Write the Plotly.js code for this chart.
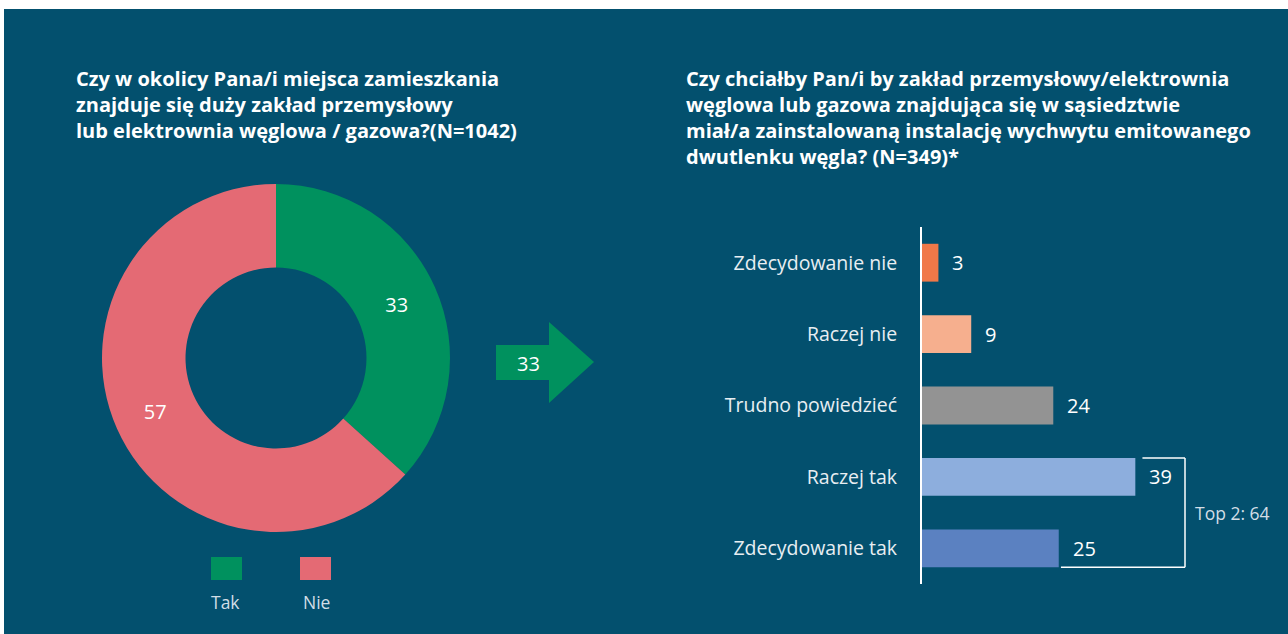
<!DOCTYPE html>
<html>
<head>
<meta charset="utf-8">
<script src="https://cdn.plot.ly/plotly-3.0.1.min.js"></script>
<style>
  html, body { margin: 0; padding: 0; background: #ffffff; }
  #chart { width: 1288px; height: 634px; }
</style>
</head>
<body>
<div id="chart"></div>
<script>
// ---------- data ----------
const donutLabels = ["Tak", "Nie"];
const donutValues = [33, 57];
const donutColors = ["#00915E", "#E46A74"];

const barCategories = ["Zdecydowanie nie", "Raczej nie", "Trudno powiedzieć", "Raczej tak", "Zdecydowanie tak"];
const barValues = [3, 9, 24, 39, 25];
const barColors = ["#F07848", "#F6AF8E", "#939393", "#8DAEDD", "#5B81C1"];

const leftTitle = "Czy w okolicy Pana/i miejsca zamieszkania<br>znajduje się duży zakład przemysłowy<br>lub elektrownia węglowa / gazowa?(N=1042)";
const rightTitle = "Czy chciałby Pan/i by zakład przemysłowy/elektrownia<br>węglowa lub gazowa znajdująca się w sąsiedztwie<br>miał/a zainstalowaną instalację wychwytu emitowanego<br>dwutlenku węgla? (N=349)*";
const top2Label = "Top 2: ";

// ---------- helpers ----------
const W = 1288, H = 634;
const X = px => px / W;
const Y = py => 1 - py / H;
const BG = "#03506E";
const FONT = "'Open Sans', 'Noto Sans', sans-serif";

const xRangeMax = (W - 922) / 5.47;
const bracketX = (1185 - 922) / 5.47;

const traces = [
  {
    type: "pie",
    labels: donutLabels,
    values: donutValues,
    sort: false,
    direction: "clockwise",
    rotation: 0,
    hole: 0.52,
    marker: { colors: donutColors, line: { width: 0 } },
    textinfo: "value",
    textposition: "inside",
    insidetextorientation: "horizontal",
    insidetextfont: { color: "#ffffff", size: 20, family: FONT },
    domain: { x: [X(102), X(450)], y: [Y(532), Y(184)] },
    showlegend: false,
    hoverinfo: "label+value"
  },
  {
    type: "bar",
    orientation: "h",
    x: barValues,
    y: barCategories,
    width: 0.53,
    marker: { color: barColors, line: { width: 0 } },
    xaxis: "x",
    yaxis: "y",
    showlegend: false,
    hoverinfo: "x+y"
  }
];

const shapes = [
  // panel background
  { type: "rect", xref: "paper", yref: "paper", x0: X(4), x1: 1, y0: 0, y1: Y(9),
    fillcolor: BG, line: { width: 0 }, layer: "below" },
  // arrow
  { type: "path", xref: "paper", yref: "paper", layer: "above",
    path: `M ${X(496)} ${Y(345)} L ${X(549)} ${Y(345)} L ${X(549)} ${Y(322)} L ${X(594)} ${Y(362)} L ${X(549)} ${Y(403)} L ${X(549)} ${Y(380)} L ${X(496)} ${Y(380)} Z`,
    fillcolor: donutColors[0], line: { width: 0 } },
  // legend swatches
  { type: "rect", xref: "paper", yref: "paper", x0: X(211), x1: X(242), y0: Y(580), y1: Y(557),
    fillcolor: donutColors[0], line: { width: 0 } },
  { type: "rect", xref: "paper", yref: "paper", x0: X(300), x1: X(331), y0: Y(580), y1: Y(557),
    fillcolor: donutColors[1], line: { width: 0 } },
  // Top 2 bracket
  { type: "line", xref: "x", yref: "y", x0: barValues[3] + 1.3, x1: bracketX, y0: 3 - 0.265, y1: 3 - 0.265,
    line: { color: "#ffffff", width: 1.5 } },
  { type: "line", xref: "x", yref: "y", x0: bracketX, x1: bracketX, y0: 3 - 0.265, y1: 4 + 0.265,
    line: { color: "#ffffff", width: 1.5 } },
  { type: "line", xref: "x", yref: "y", x0: barValues[4] + 0.4, x1: bracketX, y0: 4 + 0.265, y1: 4 + 0.265,
    line: { color: "#ffffff", width: 1.5 } }
];

const annotations = [
  { xref: "paper", yref: "paper", x: X(74), y: Y(63), xanchor: "left", yanchor: "top", align: "left",
    showarrow: false, text: "<b>" + leftTitle + "</b>",
    font: { family: FONT, size: 20, color: "#ffffff" } },
  { xref: "paper", yref: "paper", x: X(684), y: Y(63), xanchor: "left", yanchor: "top", align: "left",
    showarrow: false, text: "<b>" + rightTitle + "</b>",
    font: { family: FONT, size: 20, color: "#ffffff" } },
  { xref: "paper", yref: "paper", x: X(528), y: Y(363), xanchor: "center", yanchor: "middle",
    showarrow: false, text: String(donutValues[0]),
    font: { family: FONT, size: 20, color: "#ffffff" } },
  { xref: "paper", yref: "paper", x: X(225.5), y: Y(602), xanchor: "center", yanchor: "middle",
    showarrow: false, text: donutLabels[0], font: { family: FONT, size: 17.5, color: "#D2DEE6" } },
  { xref: "paper", yref: "paper", x: X(316), y: Y(602), xanchor: "center", yanchor: "middle",
    showarrow: false, text: donutLabels[1], font: { family: FONT, size: 17.5, color: "#D2DEE6" } },
  { xref: "x", yref: "y", x: bracketX, y: 3.5, xanchor: "left", yanchor: "middle", xshift: 8,
    showarrow: false, text: top2Label + (barValues[3] + barValues[4]),
    font: { family: FONT, size: 17.5, color: "#D2DEE6" } }
];

barValues.forEach((v, i) => {
  annotations.push({
    xref: "x", yref: "y", x: v, y: barCategories[i], xanchor: "left", yanchor: "middle", xshift: 12,
    showarrow: false, text: String(v), font: { family: FONT, size: 20, color: "#ffffff" }
  });
});

const layout = {
  width: W, height: H,
  margin: { l: 0, r: 0, t: 0, b: 0, pad: 0 },
  paper_bgcolor: "#ffffff",
  plot_bgcolor: "rgba(0,0,0,0)",
  showlegend: false,
  xaxis: {
    domain: [X(922), 1], range: [0, xRangeMax],
    showgrid: false, zeroline: false, showline: false, showticklabels: false, ticks: "", fixedrange: true
  },
  yaxis: {
    domain: [Y(584), Y(227)],
    type: "category", categoryorder: "array", categoryarray: barCategories,
    autorange: "reversed",
    showgrid: false, zeroline: false,
    showline: true, linecolor: "#ffffff", linewidth: 2,
    ticks: "", ticklabelstandoff: 19,
    tickfont: { family: FONT, size: 19.5, color: "#E8EEF2" },
    fixedrange: true
  },
  shapes: shapes,
  annotations: annotations
};

Plotly.newPlot("chart", traces, layout, { displayModeBar: false, staticPlot: true });
</script>
</body>
</html>
